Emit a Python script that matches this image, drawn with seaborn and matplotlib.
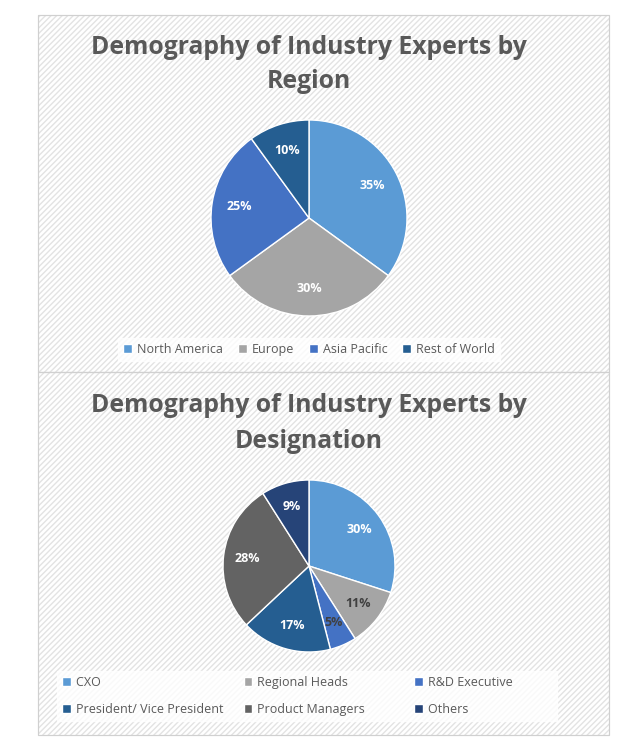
import matplotlib
matplotlib.use("Agg")
import matplotlib.pyplot as plt
import matplotlib.patches as mpatches
import seaborn as sns

sns.set_theme(style="white")
plt.rcParams["font.family"] = "Open Sans"

region_labels = ["North America", "Europe", "Asia Pacific", "Rest of World"]
region_values = [35, 30, 25, 10]
region_colors = ["#5B9BD5", "#A5A5A5", "#4472C4", "#255E91"]

desig_labels = ["CXO", "Regional Heads", "R&D Executive",
                "President/ Vice President", "Product Managers", "Others"]
desig_values = [30, 11, 5, 17, 28, 9]
desig_colors = ["#5B9BD5", "#A5A5A5", "#4472C4", "#255E91", "#636363", "#264478"]
desig_text = ["white", "#404040", "#404040", "white", "white", "white"]

W, H = 619, 752
fig = plt.figure(figsize=(W / 100, H / 100), dpi=100)
fig.patch.set_facecolor("white")


def px_box(x0, y0, x1, y1):
    # pixel box (top-left origin) -> figure fraction rect
    return [x0 / W, 1 - y1 / H, (x1 - x0) / W, (y1 - y0) / H]


def panel(y0, y1):
    r = px_box(38, y0, 609, y1)
    fig.patches.append(mpatches.Rectangle((r[0], r[1]), r[2], r[3], transform=fig.transFigure,
                                          facecolor="white", edgecolor="#e3e3e3", hatch="//////",
                                          linewidth=0.8, zorder=-2))
    fig.patches.append(mpatches.Rectangle((r[0], r[1]), r[2], r[3], transform=fig.transFigure,
                                          facecolor="none", edgecolor="#d0d0d0",
                                          linewidth=0.8, zorder=-1))


def draw_pie(cx, cy, rad, values, colors, text_colors):
    ax = fig.add_axes(px_box(cx - rad, cy - rad, cx + rad, cy + rad), zorder=5)
    ax.patch.set_visible(False)
    wedges, _, autotexts = ax.pie(values, colors=colors, startangle=90, counterclock=False,
                                  autopct="%d%%", pctdistance=0.72,
                                  wedgeprops=dict(edgecolor="white", linewidth=1))
    for t, c in zip(autotexts, text_colors):
        t.set_color(c)
        t.set_fontsize(9)
        t.set_fontweight("bold")
    ax.set_xlim(-1, 1)
    ax.set_ylim(-1, 1)
    ax.set_aspect("equal")
    ax.axis("off")
    return wedges


def title(lines, y_first):
    for i, s in enumerate(lines):
        fig.text(309 / W, 1 - (y_first + i * 35) / H, s, ha="center", va="center",
                 fontsize=17.8, fontweight="bold", color="#595959")


# top panel
panel(15, 372)
title(["Demography of Industry Experts by", "Region"], 47)
w1 = draw_pie(309, 218, 98, region_values, region_colors, ["white"] * 4)
leg1 = fig.legend(w1, region_labels, loc="center", bbox_to_anchor=(309 / W, 1 - 349 / H),
                  ncol=4, fontsize=9, frameon=True, fancybox=False, edgecolor="white",
                  handlelength=0.7, handleheight=0.7, columnspacing=1.2, handletextpad=0.4,
                  labelcolor="#595959")
leg1.get_frame().set_facecolor("white")

# bottom panel
panel(372, 735)
title(["Demography of Industry Experts by", "Designation"], 406)
w2 = draw_pie(309, 566, 86, desig_values, desig_colors, desig_text)
order = [0, 3, 1, 4, 2, 5]
leg2 = fig.legend([w2[i] for i in order], [desig_labels[i] for i in order], loc="center",
                  bbox_to_anchor=(307 / W, 1 - 696 / H), ncol=3, fontsize=9, frameon=True,
                  fancybox=False, edgecolor="white", handlelength=0.7, handleheight=0.7,
                  columnspacing=1.6, handletextpad=0.4, labelspacing=1.1,
                  labelcolor="#595959")
leg2.get_frame().set_facecolor("white")
for t in leg2.get_texts():
    t.set_text(t.get_text().ljust(25))

fig.savefig("out.png", dpi=100)
